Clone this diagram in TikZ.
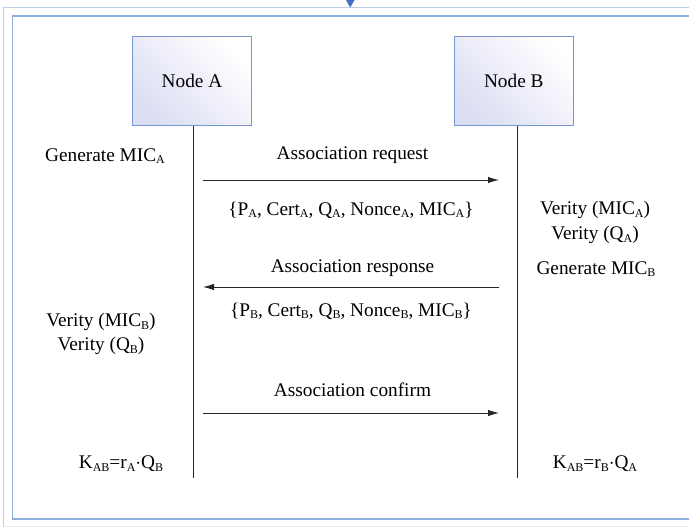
\documentclass[tikz,border=0pt]{standalone}
\usepackage{fontspec}
\setmainfont{Liberation Serif}
\newfontfamily\tnr{Liberation Serif}
\usetikzlibrary{arrows.meta}
\newcommand\sbs[1]{\raisebox{-0.3ex}{\fontsize{12}{12}\selectfont #1}}
\definecolor{frameout}{RGB}{190,208,232}
\definecolor{framein}{RGB}{140,175,222}
\definecolor{boxline}{RGB}{120,150,210}
\definecolor{boxfill}{RGB}{220,222,243}
\definecolor{tri}{RGB}{68,110,196}
\tikzset{
  txt/.style={font=\tnr\fontsize{19.3}{21}\selectfont, inner sep=0pt, text=black},
  nodebox/.style={draw=boxline, line width=0.9pt, minimum width=119pt, minimum height=89.5pt,
    left color=boxfill, right color=white, shading angle=135, inner sep=0pt,
    font=\tnr\fontsize{19.3}{21}\selectfont},
  lifeline/.style={draw=black!85, line width=0.9pt},
  msg/.style={draw=black!85, line width=0.9pt, -{Latex[length=11pt,width=6.5pt]}},
}
\begin{document}
\begin{tikzpicture}[x=1pt,y=-1pt]
\useasboundingbox (0,0) rectangle (689,528);
\fill[white] (0,0) rectangle (689,528);
% frames
\draw[frameout, line width=1pt] (3.5,527) -- (3.5,7.5) -- (695,7.5);
\draw[black!8, line width=0.8pt] (3.5,526.5) -- (695,526.5);
\draw[framein, line width=1.2pt] (695,519) -- (12.5,519) -- (12.5,16) -- (695,16);
\fill[tri] (346,0) -- (354.5,0) -- (350.2,7.5) -- cycle;
% nodes
\node[nodebox] (A) at (192,80.8) {Node A};
\node[nodebox] (B) at (513.8,80.8) {Node B};
\coordinate (Atop) at (193,125.5);
\coordinate (Btop) at (517.3,125.5);
\coordinate (Aend) at (193,478);
\coordinate (Bend) at (517.3,478);
\draw[lifeline] (Atop) -- (Aend);
\draw[lifeline] (Btop) -- (Bend);
% message endpoints
\coordinate (r1) at (203,180);
\coordinate (r2) at (499,180);
\coordinate (s1) at (499,287);
\coordinate (s2) at (203,287);
\coordinate (c1) at (203,413);
\coordinate (c2) at (499,413);
\draw[msg] (r1) -- (r2);
\draw[msg] (s1) -- (s2);
\draw[msg] (c1) -- (c2);
% labels
\node[txt] (lreq) at (352.5,155) {Association request};
\node[txt] (preq) at (351,210) {\{P\sbs{A}, Cert\sbs{A}, Q\sbs{A}, Nonce\sbs{A}, MIC\sbs{A}\}};
\node[txt] (lres) at (352.5,268) {Association response};
\node[txt] (pres) at (351,311) {\{P\sbs{B}, Cert\sbs{B}, Q\sbs{B}, Nonce\sbs{B}, MIC\sbs{B}\}};
\node[txt] (lcon) at (352.5,390) {Association confirm};
% left
\node[txt] (genA) at (105,156) {Generate MIC\sbs{A}};
\node[txt] (vA1) at (101,322) {Verity (MIC\sbs{B})};
\node[txt] (vA2) at (101,346) {Verity (Q\sbs{B})};
\node[txt] (kA) at (121,464) {K\sbs{AB}=r\sbs{A}$\cdot$Q\sbs{B}};
% right
\node[txt] (vB1) at (595,210) {Verity (MIC\sbs{A})};
\node[txt] (vB2) at (595,235) {Verity (Q\sbs{A})};
\node[txt] (genB) at (596,269) {Generate MIC\sbs{B}};
\node[txt] (kB) at (595,464) {K\sbs{AB}=r\sbs{B}$\cdot$Q\sbs{A}};
\end{tikzpicture}
\end{document}
